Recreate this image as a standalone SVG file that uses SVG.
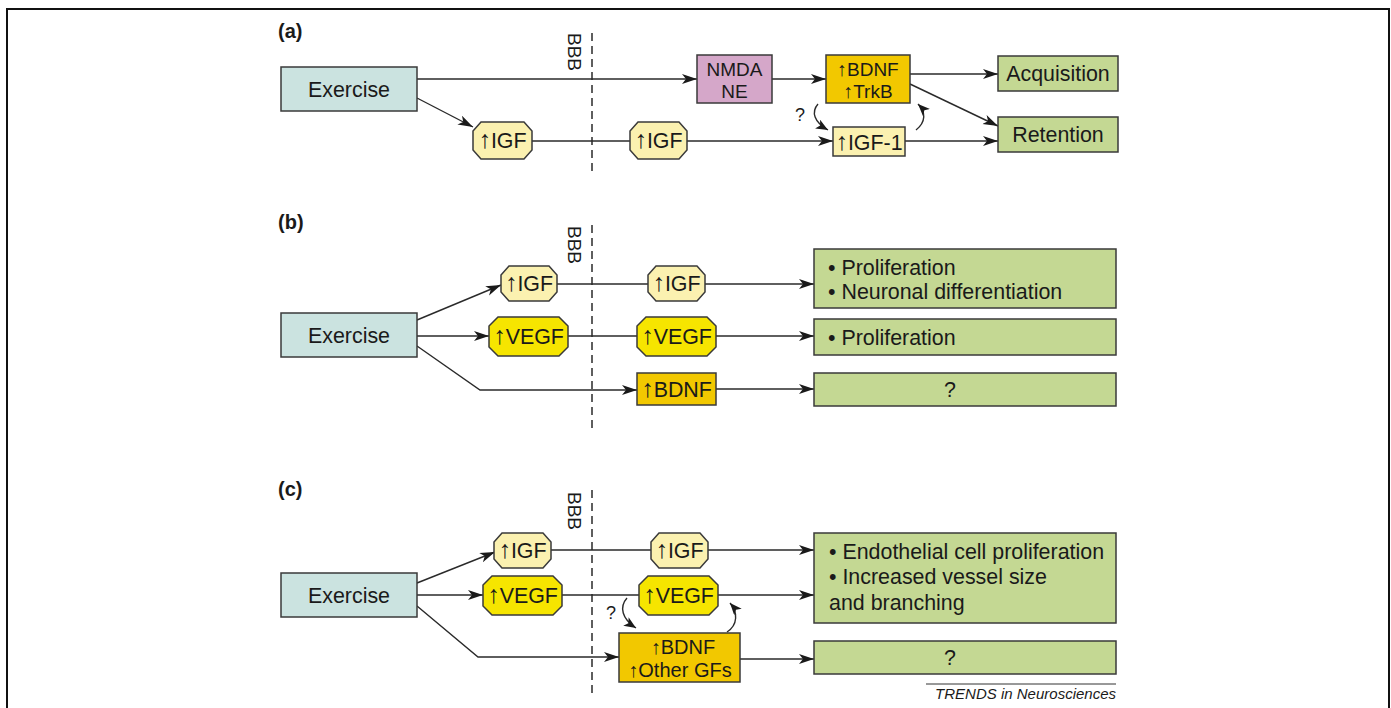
<svg xmlns="http://www.w3.org/2000/svg" width="1391" height="708" viewBox="0 0 1391 708">
<defs>
<style>
text{font-family:"Liberation Sans",Arial,sans-serif;font-size:21.4px;fill:#1a1a1a}
.c{text-anchor:middle}
.two{font-size:19px}
.up{font-size:25px}
.two .up{font-size:19.5px}
.three{font-size:20px}
.three .up{font-size:20px}
.lbl{font-weight:bold;font-size:20px}
.bbb{font-size:19px}
.q{font-size:18px}
.box{stroke:#3a3a3a;stroke-width:1.5}
.ex{fill:#cbe3e0}
.nm{fill:#d5a7c9}
.gold{fill:#f2c800}
.ly{fill:#fbf1b0}
.vy{fill:#f6e500}
.gr{fill:#c4d893}
.ln{fill:none;stroke:#2a2a2a;stroke-width:1.4}
.ar{marker-end:url(#ah)}
.cr{fill:none;stroke:#2a2a2a;stroke-width:1.4;marker-end:url(#ahs)}
.dash{stroke:#2a2a2a;stroke-width:1.5;stroke-dasharray:8 5}
</style>
<marker id="ah" markerUnits="userSpaceOnUse" markerWidth="16" markerHeight="12" refX="15" refY="5" orient="auto">
<path d="M0,0 L15,5 L0,10 L4,5 z" fill="#1a1a1a"/>
</marker>
<marker id="ahs" markerUnits="userSpaceOnUse" markerWidth="13" markerHeight="10" refX="12" refY="5" orient="auto">
<path d="M0,0 L12,5 L0,10 L3,5 z" fill="#1a1a1a"/>
</marker>
</defs>
<rect width="1391" height="708" fill="#ffffff"/>
<path d="M7,708 V9 H1389 V708" fill="none" stroke="#111" stroke-width="2"/>

<g id="labels">
<text class="lbl" x="278" y="38">(a)</text>
<text class="lbl" x="278" y="229">(b)</text>
<text class="lbl" x="278" y="496">(c)</text>
<text class="bbb" transform="translate(568,33) rotate(90)">BBB</text>
<text class="bbb" transform="translate(568,226) rotate(90)">BBB</text>
<text class="bbb" transform="translate(568,492) rotate(90)">BBB</text>
<line class="dash" x1="592" y1="33" x2="592" y2="176"/>
<line class="dash" x1="592" y1="225" x2="592" y2="433"/>
<line class="dash" x1="592" y1="490" x2="592" y2="698"/>
</g>

<g id="connectors">
<path class="ln ar" d="M417,79 H697"/>
<path class="ln ar" d="M417,98 L473,127"/>
<path class="ln" d="M532,141 H630"/>
<path class="ln ar" d="M687,141 H833"/>
<path class="ln ar" d="M772,79 H826"/>
<path class="ln ar" d="M910,74 H998"/>
<path class="ln ar" d="M910,84 L998,126"/>
<path class="ln ar" d="M905,141 H998"/>
<path class="cr" d="M818,104 C811,112 814,122 828,130"/>
<path class="cr" d="M916,130 C926,122 926,112 918,104"/>
<path class="ln ar" d="M417,320 L501,285"/>
<path class="ln ar" d="M417,336 H489"/>
<path class="ln ar" d="M417,346 L480,390 H637"/>
<path class="ln" d="M557,284 H648"/>
<path class="ln ar" d="M705,284 H814"/>
<path class="ln" d="M568,336 H637"/>
<path class="ln ar" d="M716,336 H814"/>
<path class="ln ar" d="M716,389 H814"/>
<path class="ln ar" d="M417,583 L495,552"/>
<path class="ln ar" d="M417,595 H483"/>
<path class="ln ar" d="M417,606 L478,657 H619"/>
<path class="ln" d="M551,550 H651"/>
<path class="ln ar" d="M708,550 H814"/>
<path class="ln" d="M562,595 H639"/>
<path class="ln ar" d="M718,595 H814"/>
<path class="ln ar" d="M740,659 H814"/>
<path class="cr" d="M627,598 C619,607 622,619 636,628"/>
<path class="cr" d="M727,632 C738,625 738,612 730,603"/>
<text class="q" x="795" y="121">?</text>
<text class="q" x="606" y="619">?</text>
</g>

<g id="a-exercise"><rect class="box ex" x="281" y="67" width="136" height="44"/><text class="c" x="349" y="97">Exercise</text></g>
<g id="a-nmda"><rect class="box nm" x="697" y="55" width="75" height="48"/><text class="c two" x="734.5" y="75.5">NMDA<tspan x="734.5" dy="22.5">NE</tspan></text></g>
<g id="a-bdnf"><rect class="box gold" x="826" y="55" width="84" height="48"/><text class="c two" x="868" y="75.5"><tspan class="up">↑</tspan>BDNF<tspan x="868" dy="22.5"><tspan class="up">↑</tspan>TrkB</tspan></text></g>
<g id="a-igf1"><rect class="box ly" x="833" y="127" width="72" height="29"/><text class="c" x="869" y="150"><tspan class="up">↑</tspan>IGF-1</text></g>
<g id="a-acq"><rect class="box gr" x="998" y="56" width="120" height="35"/><text class="c" x="1058" y="81">Acquisition</text></g>
<g id="a-ret"><rect class="box gr" x="998" y="117" width="120" height="35"/><text class="c" x="1058" y="142">Retention</text></g>
<g id="a-igf-out"><polygon class="box ly" points="481,122 524,122 532,131 532,150 524,159 481,159 473,150 473,131"/><text class="c" x="502.5" y="148"><tspan class="up">↑</tspan>IGF</text></g>
<g id="a-igf-in"><polygon class="box ly" points="638,122 679,122 687,131 687,150 679,159 638,159 630,150 630,131"/><text class="c" x="658.5" y="148"><tspan class="up">↑</tspan>IGF</text></g>

<g id="b-exercise"><rect class="box ex" x="281" y="313" width="136" height="44"/><text class="c" x="349" y="343">Exercise</text></g>
<g id="b-igf-out"><polygon class="box ly" points="509,266 549,266 557,275 557,292 549,301 509,301 501,292 501,275"/><text class="c" x="529" y="291"><tspan class="up">↑</tspan>IGF</text></g>
<g id="b-igf-in"><polygon class="box ly" points="656,266 697,266 705,275 705,292 697,301 656,301 648,292 648,275"/><text class="c" x="676.5" y="291"><tspan class="up">↑</tspan>IGF</text></g>
<g id="b-vegf-out"><polygon class="box vy" points="498,317 559,317 568,326 568,347 559,356 498,356 489,347 489,326"/><text class="c" x="528.5" y="344"><tspan class="up">↑</tspan>VEGF</text></g>
<g id="b-vegf-in"><polygon class="box vy" points="646,317 707,317 716,326 716,347 707,356 646,356 637,347 637,326"/><text class="c" x="676.5" y="344"><tspan class="up">↑</tspan>VEGF</text></g>
<g id="b-bdnf"><rect class="box gold" x="637" y="373" width="79" height="32"/><text class="c" x="676.5" y="397"><tspan class="up">↑</tspan>BDNF</text></g>
<g id="b-out1"><rect class="box gr" x="814" y="249" width="302" height="59"/><text x="828" y="275">• Proliferation<tspan x="828" dy="24">• Neuronal differentiation</tspan></text></g>
<g id="b-out2"><rect class="box gr" x="814" y="319" width="302" height="36"/><text x="828" y="345">• Proliferation</text></g>
<g id="b-out3"><rect class="box gr" x="814" y="373" width="302" height="33"/><text class="c" x="950" y="397">?</text></g>

<g id="c-exercise"><rect class="box ex" x="281" y="573" width="136" height="44"/><text class="c" x="349" y="603">Exercise</text></g>
<g id="c-igf-out"><polygon class="box ly" points="502,533 543,533 551,542 551,559 543,568 502,568 494,559 494,542"/><text class="c" x="522.5" y="558"><tspan class="up">↑</tspan>IGF</text></g>
<g id="c-igf-in"><polygon class="box ly" points="659,533 700,533 708,542 708,559 700,568 659,568 651,559 651,542"/><text class="c" x="679.5" y="558"><tspan class="up">↑</tspan>IGF</text></g>
<g id="c-vegf-out"><polygon class="box vy" points="492,576 553,576 562,585 562,606 553,615 492,615 483,606 483,585"/><text class="c" x="522.5" y="603"><tspan class="up">↑</tspan>VEGF</text></g>
<g id="c-vegf-in"><polygon class="box vy" points="648,576 709,576 718,585 718,606 709,615 648,615 639,606 639,585"/><text class="c" x="678.5" y="603"><tspan class="up">↑</tspan>VEGF</text></g>
<g id="c-bdnf"><rect class="box gold" x="619" y="633" width="121" height="49"/><text class="c three" x="683" y="654"><tspan class="up">↑</tspan>BDNF<tspan x="680" dy="23"><tspan class="up">↑</tspan>Other GFs</tspan></text></g>
<g id="c-out1"><rect class="box gr" x="814" y="533" width="302" height="90"/><text x="829" y="559">• Endothelial cell proliferation<tspan x="829" dy="25">• Increased vessel size</tspan><tspan x="829" dy="26">and branching</tspan></text></g>
<g id="c-out2"><rect class="box gr" x="814" y="641" width="302" height="33"/><text class="c" x="950" y="665">?</text></g>

<g id="credit">
<line x1="926" y1="684" x2="1116" y2="684" stroke="#333" stroke-width="1"/>
<text x="1116" y="699" style="font-size:15px;font-style:italic;text-anchor:end">TRENDS in Neurosciences</text>
</g>
</svg>
